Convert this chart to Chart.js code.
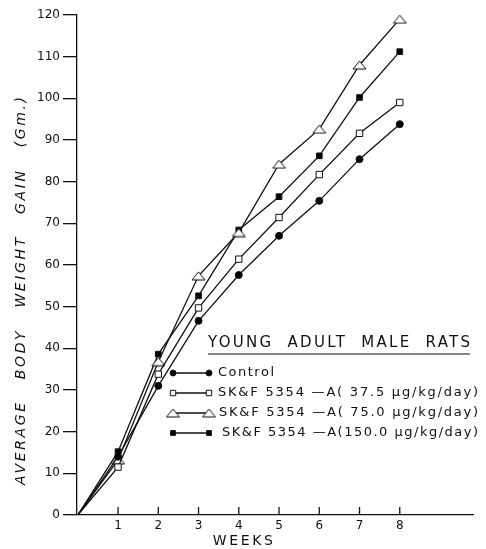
<!DOCTYPE html>
<html>
<head>
<meta charset="utf-8">
<script src="https://cdn.jsdelivr.net/npm/chart.js@4.4.1/dist/chart.umd.min.js"></script>
<style>
  html, body { margin: 0; padding: 0; background: #fff; }
  #wrap { width: 486px; height: 549px; }
</style>
</head>
<body>
<div id="wrap"><canvas id="chart" width="486" height="549"></canvas></div>
<script>
// weeks on the x axis (week 0 = start, no marker)
const weeks = [0, 1, 2, 3, 4, 5, 6, 7, 8];
const tickWeeks = [1, 2, 3, 4, 5, 6, 7, 8];

// average body weight gain (Gm.)
const control = [0, 14, 31, 46.6, 57.6, 67, 75.4, 85.4, 93.8];
const dose37 = [0, 11.5, 33.8, 49.7, 61.4, 71.4, 81.7, 91.6, 99];
const dose75 = [0, 13.2, 36.8, 57.4, 67.8, 84.2, 92.6, 108, 119];
const dose150 = [0, 15.2, 38.6, 52.6, 68.4, 76.4, 86.2, 100.2, 111.2];

const seriesNames = [
  'Control',
  'SK&F 5354 —A( 37.5 μg/kg/day)',
  'SK&F 5354 —A( 75.0 μg/kg/day)',
  'SK&F 5354 —A(150.0 μg/kg/day)'
];
const legendTitle = 'YOUNG  ADULT  MALE  RATS';
const yTitle = 'AVERAGE   BODY   WEIGHT   GAIN   (Gm.)';
const xTitle = 'WEEKS';

const FONT = "'DejaVu Sans', sans-serif";

// flat open triangle like the hand-drawn stencil one
function flatTriangle(w, h) {
  const c = document.createElement('canvas');
  c.width = w + 2;
  c.height = h + 2;
  const g = c.getContext('2d');
  g.fillStyle = '#fff';
  g.strokeStyle = '#111';
  g.lineWidth = 1;
  g.beginPath();
  g.moveTo(1, h + 1);
  g.lineTo(w / 2 + 1, 1);
  g.lineTo(w + 1, h + 1);
  g.closePath();
  g.fill();
  g.stroke();
  return c;
}
const triImg = flatTriangle(13, 8);

// marker look for each series
const markers = [
  { style: 'circle', radius: 3.5, fill: '#000' },
  { style: 'rect', radius: 4.5, fill: '#fff' },
  { style: triImg, radius: 6, fill: '#fff' },
  { style: 'rect', radius: 4, fill: '#000' }
];

function toPoints(vals) {
  return vals.map((v, i) => ({ x: weeks[i], y: v }));
}

const allValues = [control, dose37, dose75, dose150];

const datasets = allValues.map((vals, i) => ({
  label: seriesNames[i],
  data: toPoints(vals),
  borderColor: '#111',
  borderWidth: 1.3,
  pointStyle: markers[i].style,
  pointRadius: vals.map((v, j) => (j === 0 ? 0 : markers[i].radius)),
  pointBackgroundColor: markers[i].fill,
  pointBorderColor: '#111',
  pointBorderWidth: 1,
  tension: 0
}));

// draw text stretched to a given width using letter spacing
function fitText(ctx, text, x, y, width, align) {
  ctx.letterSpacing = '0px';
  const w = ctx.measureText(text).width;
  const sp = (width - w) / Math.max(text.length - 1, 1);
  ctx.letterSpacing = sp + 'px';
  ctx.textAlign = 'left';
  let startX = x;
  if (align === 'center') startX = x - width / 2;
  ctx.fillText(text, startX, y);
  ctx.letterSpacing = '0px';
}

const decorPlugin = {
  id: 'decor',
  afterDraw(chart) {
    const ctx = chart.ctx;
    const xs = chart.scales.x;
    const bottom = chart.chartArea.bottom;
    ctx.save();
    ctx.strokeStyle = '#111';
    ctx.lineWidth = 1.3;
    // inward x ticks
    tickWeeks.forEach(w => {
      const px = xs.getPixelForValue(w);
      ctx.beginPath();
      ctx.moveTo(px, bottom);
      ctx.lineTo(px, bottom - 8);
      ctx.stroke();
    });

    ctx.fillStyle = '#111';
    ctx.textBaseline = 'middle';

    // x title
    ctx.font = '14px ' + FONT;
    fitText(ctx, xTitle, xs.getPixelForValue(4.1), 541, 60, 'center');

    // y title (rotated)
    ctx.save();
    ctx.translate(21, 291);
    ctx.rotate(-Math.PI / 2);
    ctx.font = 'italic 14px ' + FONT;
    fitText(ctx, yTitle, 0, 0, 388, 'center');
    ctx.restore();

    // legend title + underline
    ctx.font = '15px ' + FONT;
    fitText(ctx, legendTitle, 208, 343, 262, 'left');
    ctx.beginPath();
    ctx.lineWidth = 1.2;
    ctx.moveTo(208, 354);
    ctx.lineTo(470, 354);
    ctx.stroke();

    // legend entries
    const rowY = [373, 393, 413, 433];
    const textX = [218, 218, 219, 222];
    ctx.font = '13px ' + FONT;
    seriesNames.forEach((name, i) => {
      const y = rowY[i];
      ctx.lineWidth = 1.3;
      ctx.beginPath();
      ctx.moveTo(173, y);
      ctx.lineTo(209, y);
      ctx.stroke();
      [173, 209].forEach(mx => {
        ctx.fillStyle = markers[i].fill;
        ctx.strokeStyle = '#111';
        ctx.lineWidth = 1;
        Chart.helpers.drawPoint(ctx, {
          pointStyle: markers[i].style,
          radius: markers[i].radius * 0.85,
          rotation: 0,
          borderWidth: 1
        }, mx, y);
      });
      ctx.fillStyle = '#111';
      ctx.strokeStyle = '#111';
      const w = i === 0 ? 56 : 260;
      fitText(ctx, name, textX[i], y, w - (textX[i] - 218), 'left');
    });
    ctx.restore();
  }
};

new Chart(document.getElementById('chart'), {
  type: 'line',
  data: { datasets },
  options: {
    responsive: false,
    animation: false,
    devicePixelRatio: 1,
    layout: { padding: { top: 15, right: 13, left: 0, bottom: 0 } },
    plugins: {
      legend: { display: false },
      tooltip: { enabled: false }
    },
    scales: {
      x: {
        type: 'linear',
        min: -0.02,
        max: 9.82,
        afterBuildTicks: s => { s.ticks = tickWeeks.map(v => ({ value: v })); },
        afterFit: s => { s.height = 34; },
        grid: { display: false, drawTicks: false },
        border: { color: '#111', width: 1.3 },
        ticks: {
          padding: 4,
          color: '#111',
          font: { family: FONT, size: 12 },
          callback: v => String(v)
        }
      },
      y: {
        min: 0,
        max: 120,
        afterFit: s => { s.width = 77; },
        grid: { drawOnChartArea: false, drawTicks: true, tickLength: 14, color: '#111', lineWidth: 1.3 },
        border: { color: '#111', width: 1.3 },
        ticks: {
          stepSize: 10,
          padding: 3,
          color: '#111',
          font: { family: FONT, size: 12 }
        }
      }
    }
  },
  plugins: [decorPlugin]
});
</script>
</body>
</html>
